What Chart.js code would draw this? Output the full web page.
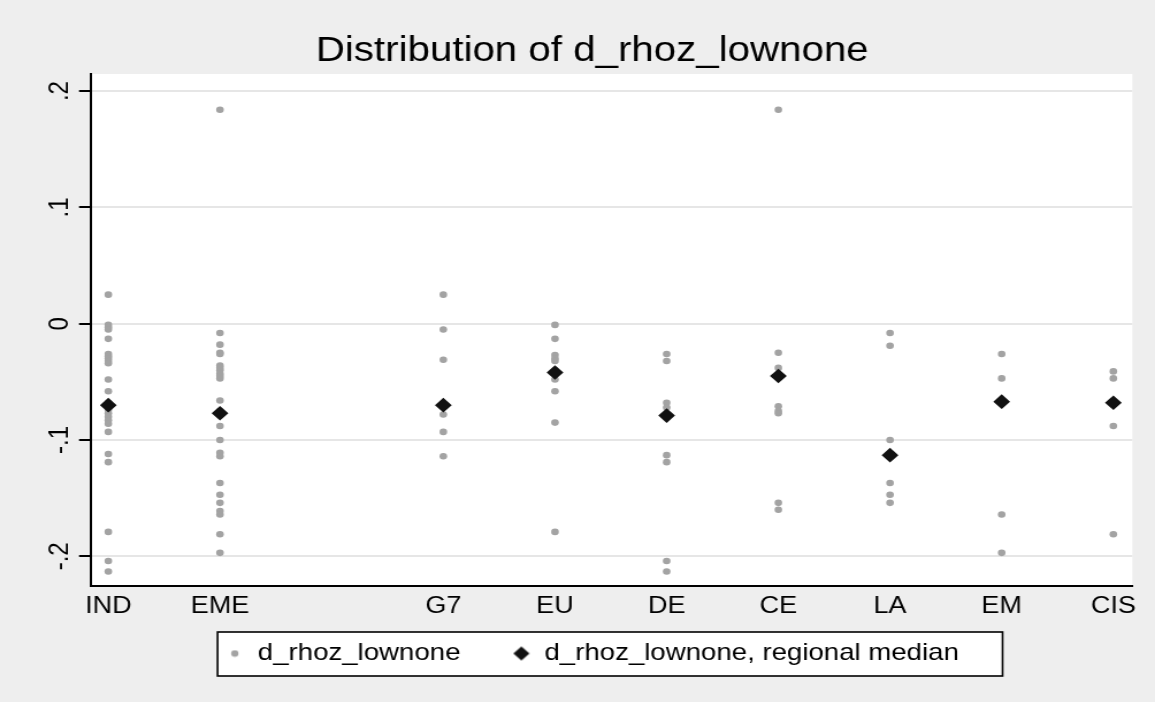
<!DOCTYPE html>
<html>
<head>
<meta charset="utf-8">
<script src="https://cdn.jsdelivr.net/npm/chart.js@4.4.1/dist/chart.umd.min.js"></script>
<style>
  html, body { margin: 0; padding: 0; background: #eeeeee; overflow: hidden; }
  /* the original graph is stretched sideways, so draw narrower and stretch the canvas */
  #wrap { width: 1004px; height: 702px; transform: scaleX(1.1504); transform-origin: 0 0; }
</style>
</head>
<body>
<div id="wrap"><canvas id="distChart" width="1004" height="702"></canvas></div>
<script>
// regions on the x axis, the empty one is the gap between EME and G7
const categories = ['IND', 'EME', '', 'G7', 'EU', 'DE', 'CE', 'LA', 'EM', 'CIS'];

// d_rhoz_lownone by region
const indValues = [0.025, -0.001, -0.003, -0.005, -0.013, -0.026, -0.028, -0.030, -0.032, -0.034, -0.048, -0.058,
                   -0.068, -0.074, -0.077, -0.080, -0.083, -0.086, -0.093, -0.112, -0.119, -0.179, -0.204, -0.213];
const emeValues = [0.184, -0.008, -0.018, -0.025, -0.026, -0.036, -0.038, -0.040, -0.043, -0.045, -0.047, -0.066,
                   -0.075, -0.088, -0.100, -0.111, -0.114, -0.137, -0.147, -0.154, -0.161, -0.164, -0.181, -0.197];
const gapValues = [];
const g7Values = [0.025, -0.005, -0.031, -0.070, -0.078, -0.093, -0.114];
const euValues = [-0.001, -0.013, -0.027, -0.030, -0.032, -0.040, -0.048, -0.058, -0.085, -0.179];
const deValues = [-0.026, -0.032, -0.068, -0.072, -0.113, -0.119, -0.204, -0.213];
const ceValues = [0.184, -0.025, -0.038, -0.071, -0.075, -0.077, -0.154, -0.160];
const laValues = [-0.008, -0.019, -0.100, -0.137, -0.147, -0.154];
const emValues = [-0.026, -0.047, -0.164, -0.197];
const cisValues = [-0.041, -0.047, -0.088, -0.181];

const regionValues = [indValues, emeValues, gapValues, g7Values, euValues, deValues, ceValues, laValues, emValues, cisValues];

// regional medians
const medianValues = [-0.070, -0.077, null, -0.070, -0.042, -0.079, -0.045, -0.113, -0.067, -0.068];

const yTickValues = [-0.2, -0.1, 0, 0.1, 0.2];
const yTickLabels = ['-.2', '-.1', '0', '.1', '.2'];

const pointData = [];
regionValues.forEach((vals, i) => {
    vals.forEach(v => pointData.push({ x: i + 1, y: v }));
});
const medianData = [];
medianValues.forEach((v, i) => {
    if (v !== null) medianData.push({ x: i + 1, y: v });
});

// small symbols for the legend
function makeDot() {
    const c = document.createElement('canvas');
    c.width = 8; c.height = 8;
    const g = c.getContext('2d');
    g.fillStyle = '#a3a3a3';
    g.beginPath();
    g.arc(4, 4, 3.2, 0, Math.PI * 2);
    g.fill();
    return c;
}
function makeDiamond() {
    const c = document.createElement('canvas');
    c.width = 16; c.height = 16;
    const g = c.getContext('2d');
    g.fillStyle = '#111111';
    g.beginPath();
    g.moveTo(8, 1); g.lineTo(15, 8); g.lineTo(8, 15); g.lineTo(1, 8);
    g.closePath();
    g.fill();
    return c;
}
const legendSymbols = [makeDot(), makeDiamond()];

const fontFamily = '"Liberation Sans", Arial, sans-serif';
Chart.defaults.font.family = fontFamily;
Chart.defaults.color = '#000';

// white plot region, framed legend, axis labels placed like stata does
const stataLook = {
    id: 'stataLook',
    beforeDraw(chart) {
        const { ctx, chartArea: a } = chart;
        ctx.save();
        ctx.fillStyle = '#ffffff';
        ctx.fillRect(a.left, a.top, a.right - a.left, a.bottom - a.top);
        const boxes = chart.legend && chart.legend.legendHitBoxes;
        if (boxes && boxes.length) {
            const first = boxes[0];
            const last = boxes[boxes.length - 1];
            const mid = first.top + first.height / 2;
            const x0 = first.left - 7;
            const x1 = last.left + last.width + 38;
            ctx.fillRect(x0, mid - 21.5, x1 - x0, 44);
            ctx.strokeStyle = '#000';
            ctx.lineWidth = 1.6;
            ctx.strokeRect(x0, mid - 21.5, x1 - x0, 44);
        }
        ctx.restore();
    },
    afterDraw(chart) {
        const { ctx, chartArea: a } = chart;
        const xScale = chart.scales.x;
        const yScale = chart.scales.y;
        ctx.save();
        ctx.fillStyle = '#000';

        // y labels, turned on their side
        ctx.font = '24px ' + fontFamily;
        ctx.textAlign = 'center';
        ctx.textBaseline = 'alphabetic';
        yTickValues.forEach((v, i) => {
            const py = yScale.getPixelForValue(v);
            ctx.save();
            ctx.translate(a.left - 20, py);
            ctx.rotate(-Math.PI / 2);
            ctx.fillText(yTickLabels[i], 0, 0);
            ctx.restore();
        });

        // region names under the columns
        ctx.font = '23.5px ' + fontFamily;
        ctx.textBaseline = 'middle';
        categories.forEach((c, i) => {
            if (c === '') return;
            ctx.fillText(c, xScale.getPixelForValue(i + 1), a.bottom + 20.6);
        });
        ctx.restore();
    }
};

const ctx = document.getElementById('distChart').getContext('2d');
new Chart(ctx, {
    type: 'scatter',
    data: {
        datasets: [
            {
                label: 'd_rhoz_lownone',
                data: pointData,
                pointStyle: 'circle',
                pointRadius: 3.3,
                pointBorderWidth: 0,
                backgroundColor: '#a3a3a3',
                borderColor: '#a3a3a3',
                order: 1
            },
            {
                label: 'd_rhoz_lownone, regional median',
                data: medianData,
                pointStyle: 'rectRot',
                pointRadius: 7.3,
                pointBorderWidth: 0,
                backgroundColor: '#111111',
                borderColor: '#111111',
                order: 0
            }
        ]
    },
    options: {
        responsive: false,
        devicePixelRatio: 1,
        animation: false,
        events: [],
        layout: { padding: { left: 45.3, right: 19.7, top: 0, bottom: 26.5 } },
        plugins: {
            title: {
                display: true,
                text: 'Distribution of d_rhoz_lownone',
                color: '#000',
                font: { size: 35, weight: 'normal' },
                padding: { top: 30.8, bottom: 1.2 }
            },
            legend: {
                position: 'bottom',
                labels: {
                    usePointStyle: true,
                    boxWidth: 16,
                    boxHeight: 16,
                    padding: 45,
                    color: '#000',
                    font: { size: 24 },
                    sort: (a, b) => a.datasetIndex - b.datasetIndex,
                    generateLabels(chart) {
                        const items = Chart.defaults.plugins.legend.labels.generateLabels(chart);
                        items.forEach(it => { it.pointStyle = legendSymbols[it.datasetIndex]; });
                        return items;
                    }
                }
            },
            tooltip: { enabled: false }
        },
        scales: {
            x: {
                type: 'linear',
                min: 0.845,
                max: 10.17,
                afterBuildTicks: s => {
                    s.ticks = categories
                        .map((c, i) => ({ value: i + 1, label: c }))
                        .filter(t => t.label !== '')
                        .map(t => ({ value: t.value }));
                },
                afterFit: s => { s.height = 10.5; },
                grid: { display: false },
                border: { display: true, color: '#000', width: 2 },
                ticks: { display: false }
            },
            y: {
                min: -0.2255,
                max: 0.2147,
                afterBuildTicks: s => { s.ticks = yTickValues.map(v => ({ value: v })); },
                afterFit: s => { s.width = 33.8; },
                grid: {
                    color: '#e6e6e6',
                    lineWidth: 2,
                    drawTicks: true,
                    tickColor: '#000',
                    tickWidth: 2,
                    tickLength: 10.4
                },
                border: { color: '#000', width: 2 },
                ticks: { display: false }
            }
        }
    },
    plugins: [stataLook]
});
</script>
</body>
</html>
